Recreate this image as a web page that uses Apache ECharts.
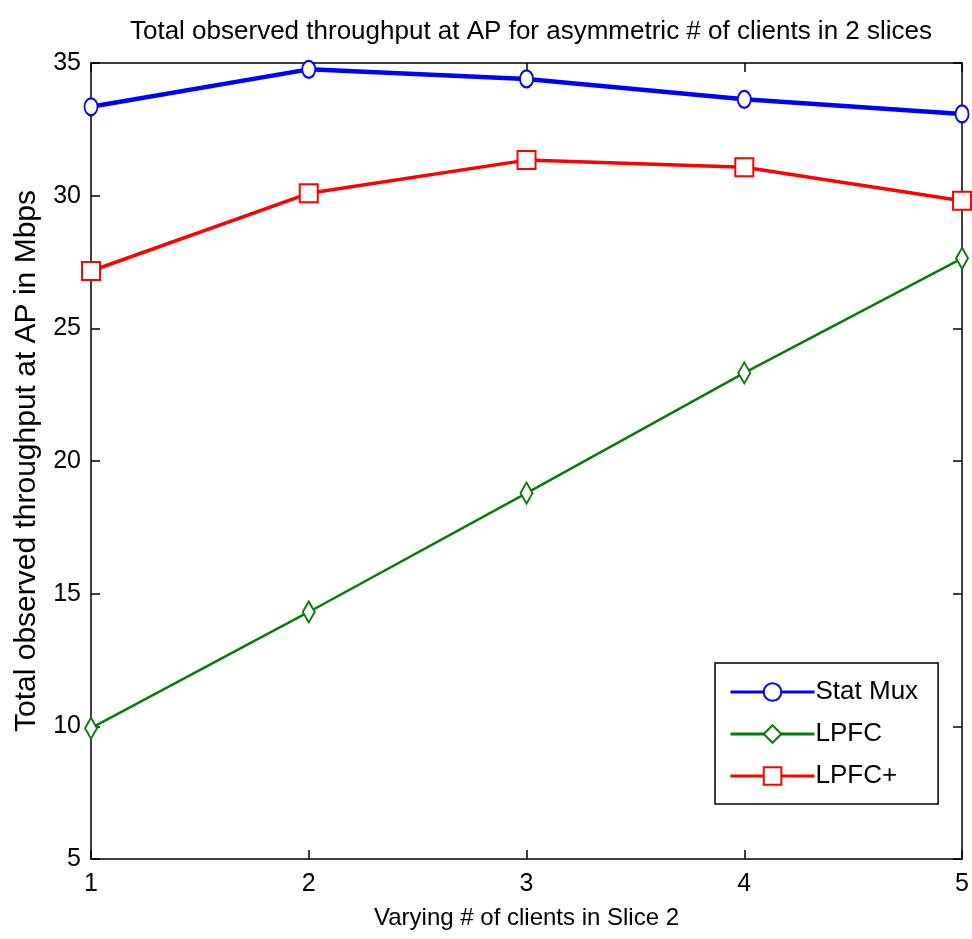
<!DOCTYPE html>
<html><head><meta charset="utf-8">
<script src="https://cdn.jsdelivr.net/npm/echarts@6/dist/echarts.min.js"></script>
<style>html,body{margin:0;padding:0;background:#fff}#c{width:972px;height:939px}</style>
</head><body><div id="c"></div>
<script>
const xValues = [1, 2, 3, 4, 5];
const statMux = [33.35, 34.76, 34.4, 33.63, 33.08];
const lpfc = [9.93, 14.31, 18.79, 23.32, 27.64];
const lpfcPlus = [27.16, 30.09, 31.34, 31.07, 29.81];
const seriesNames = ['Stat Mux', 'LPFC', 'LPFC+'];
const yTicks = [5, 10, 15, 20, 25, 30, 35];

const FONT = '"Liberation Sans Narrow", "Liberation Sans", Arial, sans-serif';
const pair = arr => xValues.map((x, i) => [x, arr[i]]);
const chart = echarts.init(document.getElementById('c'));
const axisCommon = {
  axisLine: {show: true, lineStyle: {color: '#000', width: 1.5}},
  axisTick: {show: true, inside: true, length: 9, lineStyle: {color: '#000', width: 1.5}},
  splitLine: {show: false}
};
chart.setOption({
  backgroundColor: '#fff',
  animation: false,
  title: {
    text: 'Total observed throughput at AP for asymmetric # of clients in 2 slices',
    left: 526, textAlign: 'center', top: 14,
    textStyle: {fontFamily: FONT, fontSize: 26, fontWeight: 'normal', color: '#000'}
  },
  grid: {left: 91, right: 7, top: 63, bottom: 80},
  legend: {
    data: seriesNames,
    orient: 'vertical',
    left: 715, top: 663,
    width: 224,
    padding: [16, 20, 15, 14],
    itemGap: 16,
    itemWidth: 84, itemHeight: 22,
    borderColor: '#000', borderWidth: 1.5, backgroundColor: '#fff',
    lineStyle: {width: 3},
    textStyle: {fontFamily: FONT, fontSize: 26, color: '#000', padding: [0, 0, 0, -4]}
  },
  xAxis: [
    Object.assign({type: 'value', min: 1, max: 5, interval: 1, position: 'bottom',
      name: 'Varying # of clients in Slice 2', nameLocation: 'middle', nameGap: 47,
      nameTextStyle: {fontFamily: FONT, fontSize: 24, color: '#000'},
      axisLabel: {fontFamily: FONT, fontSize: 25, color: '#000', margin: 13}}, axisCommon),
    Object.assign({type: 'value', min: 1, max: 5, interval: 1, position: 'top',
      axisLabel: {show: false}}, axisCommon)
  ],
  yAxis: [
    Object.assign({type: 'value', min: 5, max: 35, interval: 5, position: 'left',
      name: 'Total observed throughput at AP in Mbps', nameLocation: 'middle', nameGap: 49,
      nameTextStyle: {fontFamily: FONT, fontSize: 30, color: '#000'},
      axisLabel: {fontFamily: FONT, fontSize: 25, color: '#000', margin: 10,
        formatter: v => yTicks.includes(v) ? String(v) : ''}}, axisCommon),
    Object.assign({type: 'value', min: 5, max: 35, interval: 5, position: 'right',
      axisLabel: {show: false}}, axisCommon)
  ],
  series: [
    {name: seriesNames[0], type: 'line', data: pair(statMux), color: '#0000FF',
     lineStyle: {width: 4.5, color: '#0000FF'}, symbol: 'emptyCircle', symbolSize: [13, 17],
     itemStyle: {color: '#0000FF', borderWidth: 2.5, borderColor: '#0000FF'}, z: 4},
    {name: seriesNames[1], type: 'line', data: pair(lpfc), color: '#0A7A0A',
     lineStyle: {width: 2.5, color: '#0A7A0A'}, symbol: 'emptyDiamond', symbolSize: [12, 21],
     itemStyle: {color: '#0A7A0A', borderWidth: 2, borderColor: '#0A7A0A'}, z: 2},
    {name: seriesNames[2], type: 'line', data: pair(lpfcPlus), color: '#FF0000',
     lineStyle: {width: 3.5, color: '#FF0000'}, symbol: 'emptyRect', symbolSize: [18, 18],
     itemStyle: {color: '#FF0000', borderWidth: 2.5, borderColor: '#FF0000'}, z: 3}
  ]
});
</script></body></html>
